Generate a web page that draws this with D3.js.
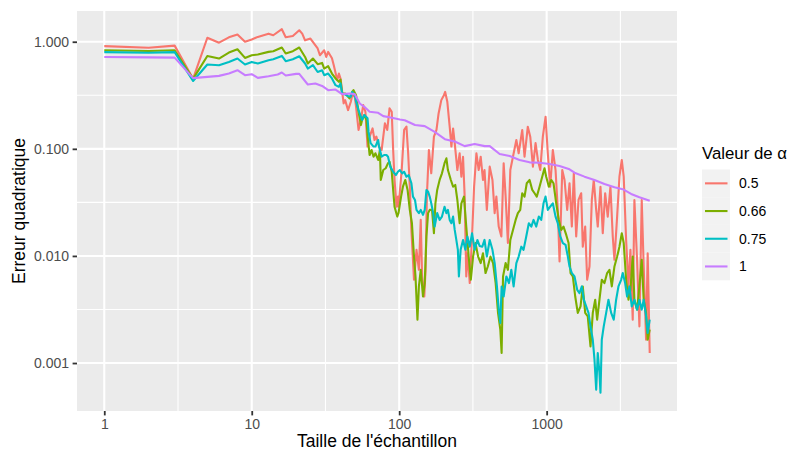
<!DOCTYPE html>
<html>
<head>
<meta charset="utf-8">
<script src="https://cdnjs.cloudflare.com/ajax/libs/d3/7.8.5/d3.min.js"></script>
<style>
  body { margin: 0; background: #fff; }
  text { font-family: "Liberation Sans", Arial, sans-serif; }
</style>
</head>
<body>
<script>
// legend levels and tick labels
var alphaLevels = ['0.5', '0.66', '0.75', '1'];
var xTicks = [1, 10, 100, 1000];
var xTickLabels = ['1', '10', '100', '1000'];
var yTicks = [1, 0.1, 0.01, 0.001];
var yTickLabels = ['1.000', '0.100', '0.010', '0.001'];

// [taille de l'échantillon, erreur quadratique]
var serieA05 = [[1,0.91],[2,0.88],[3,0.92],[4,0.45],[5,1.09],[6,0.98],[7,1.10],[8,1.17],[9,1.0],[10,1.05],[11,1.11],[13,1.19],[14,1.15],[16,1.31],[17,1.10],[19,1.13],[21,1.28],[22,1.19],[23,1.03],[25,1.07],[28,0.865],[29,0.748],[31,0.833],[32,0.721],[33,0.803],[35,0.70],[36,0.604],[38,0.438],[39,0.505],[40,0.454],[42,0.266],[43,0.285],[45,0.230],[47,0.275],[48,0.317],[50,0.306],[51,0.247],[53,0.150],[55,0.186],[57,0.256],[59,0.222],[61,0.105],[63,0.130],[66,0.155],[68,0.121],[70,0.130],[73,0.105],[76,0.0975],[78,0.130],[80,0.173],[83,0.150],[86,0.239],[89,0.222],[91,0.0975],[93,0.0512],[96,0.0288],[98,0.0358],[99,0.0288],[104,0.0634],[108,0.150],[112,0.161],[115,0.0909],[118,0.0443],[121,0.0175],[126,0.00599],[131,0.0114],[136,0.00742],[140,0.0217],[143,0.00643],[148,0.00418],[151,0.00742],[154,0.0358],[159,0.0975],[165,0.0591],[172,0.130],[179,0.150],[185,0.214],[193,0.285],[201,0.317],[205,0.340],[212,0.275],[220,0.161],[226,0.105],[232,0.155],[238,0.113],[248,0.0634],[257,0.0909],[264,0.0549],[271,0.0844],[278,0.0358],[285,0.00643],[291,0.0106],[301,0.00558],[312,0.0152],[322,0.0443],[334,0.0909],[346,0.0634],[357,0.0844],[370,0.0512],[379,0.0634],[393,0.0269],[411,0.0682],[429,0.0512],[444,0.0251],[456,0.0358],[473,0.0188],[493,0.0152],[511,0.0734],[527,0.0358],[546,0.0132],[567,0.0634],[591,0.0844],[623,0.121],[646,0.0909],[683,0.150],[708,0.0844],[745,0.161],[774,0.130],[807,0.0682],[841,0.113],[872,0.0787],[905,0.0634],[942,0.130],[983,0.199],[1018,0.0909],[1057,0.0443],[1101,0.0975],[1149,0.0634],[1190,0.0269],[1223,0.00887],[1276,0.0634],[1322,0.0512],[1378,0.0269],[1429,0.0477],[1482,0.0188],[1528,0.0591],[1586,0.0152],[1645,0.0333],[1715,0.0385],[1758,0.0122],[1825,0.0188],[1882,0.00599],[1952,0.00797],[2024,0.0333],[2087,0.0512],[2167,0.0269],[2221,0.0188],[2317,0.0443],[2402,0.0163],[2493,0.0385],[2596,0.0233],[2708,0.0443],[2807,0.0152],[2882,0.0092],[3005,0.0233],[3116,0.0549],[3231,0.0787],[3331,0.0549],[3459,0.0141],[3587,0.00519],[3699,0.0114],[3834,0.00254],[3936,0.0333],[4103,0.0092],[4256,0.0022],[4413,0.0333],[4550,0.00797],[4724,0.00165],[4843,0.0106],[5000,0.00124]];

var serieA066 = [[1,0.833],[2,0.82],[3,0.833],[4,0.45],[5,0.737],[6,0.697],[7,0.793],[8,0.851],[9,0.706],[10,0.748],[11,0.760],[13,0.804],[14,0.816],[16,0.883],[17,0.776],[19,0.816],[21,0.883],[23,0.721],[24,0.626],[26,0.697],[28,0.617],[30,0.634],[31,0.562],[33,0.591],[35,0.505],[37,0.454],[39,0.422],[40,0.444],[41,0.329],[43,0.329],[44,0.317],[46,0.296],[48,0.340],[49,0.353],[51,0.317],[53,0.222],[55,0.167],[56,0.186],[58,0.207],[60,0.186],[61,0.134],[63,0.0876],[65,0.0975],[67,0.0844],[69,0.0909],[72,0.0787],[74,0.0975],[75,0.0512],[78,0.0634],[81,0.0659],[84,0.0734],[86,0.0759],[89,0.0611],[91,0.0413],[93,0.0288],[97,0.0233],[99,0.0252],[103,0.0358],[106,0.0443],[110,0.0512],[114,0.0413],[118,0.0269],[122,0.0202],[126,0.00987],[129,0.00643],[133,0.00254],[136,0.00519],[140,0.00742],[145,0.00418],[149,0.00558],[153,0.0152],[157,0.0251],[161,0.0269],[167,0.0269],[172,0.0163],[176,0.031],[181,0.0413],[188,0.0512],[195,0.0591],[203,0.0734],[209,0.0816],[214,0.0634],[224,0.0512],[232,0.0443],[240,0.046],[248,0.0333],[257,0.0202],[264,0.031],[275,0.0358],[285,0.0188],[296,0.00987],[306,0.00599],[317,0.00987],[329,0.0132],[343,0.00987],[357,0.00858],[370,0.0106],[385,0.00692],[399,0.00797],[416,0.00987],[433,0.00858],[451,0.00558],[468,0.00294],[485,0.00205],[495,0.00124],[506,0.00643],[527,0.00858],[546,0.00742],[567,0.0141],[591,0.0175],[616,0.0217],[638,0.0251],[662,0.0269],[683,0.0385],[708,0.0358],[733,0.0477],[766,0.0512],[799,0.0413],[828,0.0385],[857,0.0358],[895,0.0443],[933,0.0549],[967,0.0659],[993,0.0549],[1035,0.0443],[1074,0.0512],[1113,0.0477],[1161,0.031],[1209,0.0217],[1256,0.0175],[1301,0.0188],[1358,0.0157],[1408,0.0132],[1452,0.00692],[1505,0.00643],[1562,0.00418],[1626,0.00294],[1697,0.00338],[1758,0.00519],[1825,0.00294],[1900,0.00273],[1983,0.00143],[2055,0.00294],[2134,0.0039],[2200,0.00254],[2281,0.0039],[2365,0.00599],[2466,0.00558],[2571,0.00692],[2666,0.00742],[2765,0.00519],[2882,0.00797],[3005,0.00987],[3116,0.0122],[3231,0.0163],[3331,0.0132],[3459,0.00599],[3587,0.0039],[3699,0.00483],[3834,0.00987],[3936,0.0039],[4103,0.00315],[4256,0.00519],[4413,0.0092],[4550,0.0039],[4724,0.00294],[4843,0.00165],[5000,0.00205]];

var serieA075 = [[1,0.80],[2,0.79],[3,0.80],[4,0.43],[5,0.613],[6,0.604],[7,0.648],[8,0.697],[9,0.613],[10,0.648],[11,0.626],[13,0.672],[14,0.687],[16,0.737],[17,0.658],[19,0.687],[21,0.732],[23,0.626],[24,0.562],[26,0.604],[28,0.522],[30,0.542],[31,0.487],[33,0.505],[35,0.454],[37,0.393],[39,0.379],[40,0.408],[41,0.329],[43,0.322],[45,0.31],[47,0.306],[48,0.340],[50,0.317],[51,0.275],[53,0.230],[55,0.199],[56,0.186],[58,0.207],[61,0.193],[62,0.144],[64,0.113],[67,0.105],[69,0.105],[72,0.121],[73,0.105],[76,0.0844],[79,0.0876],[82,0.0876],[84,0.0844],[87,0.0682],[91,0.0611],[95,0.0569],[98,0.0611],[101,0.0634],[105,0.0591],[108,0.0611],[112,0.0549],[116,0.0569],[121,0.0477],[124,0.0358],[128,0.0333],[131,0.0269],[136,0.0251],[140,0.0269],[145,0.0242],[149,0.0269],[153,0.0413],[157,0.0398],[161,0.0358],[165,0.031],[170,0.0251],[174,0.0188],[181,0.0251],[188,0.0217],[195,0.0233],[203,0.0288],[209,0.0251],[214,0.0269],[220,0.0217],[226,0.0202],[232,0.0233],[238,0.0175],[244,0.0141],[250,0.0114],[254,0.00643],[261,0.0114],[271,0.0141],[281,0.0114],[290,0.0152],[301,0.0122],[312,0.0163],[325,0.0114],[339,0.0141],[351,0.0124],[366,0.0122],[379,0.0141],[393,0.00987],[411,0.0141],[429,0.0114],[444,0.00858],[460,0.00519],[473,0.00315],[485,0.00237],[495,0.00519],[511,0.00418],[533,0.00643],[555,0.00558],[576,0.00742],[597,0.00519],[623,0.00858],[646,0.00987],[673,0.0122],[697,0.0114],[727,0.0152],[757,0.0202],[787,0.0188],[815,0.0217],[850,0.0188],[885,0.0233],[919,0.0217],[952,0.031],[983,0.0358],[1018,0.0269],[1057,0.0288],[1101,0.031],[1149,0.0233],[1190,0.0202],[1237,0.0152],[1288,0.0132],[1343,0.0127],[1392,0.00987],[1429,0.00797],[1482,0.00692],[1545,0.00643],[1611,0.00483],[1670,0.0045],[1732,0.00519],[1785,0.0039],[1854,0.00338],[1922,0.00294],[1983,0.0022],[2055,0.00165],[2110,0.00108],[2167,0.000565],[2221,0.00124],[2281,0.00081],[2317,0.000527],[2365,0.00165],[2438,0.0022],[2532,0.00294],[2625,0.0039],[2738,0.00294],[2850,0.00254],[2959,0.0039],[3069,0.00519],[3200,0.00599],[3281,0.00692],[3406,0.00558],[3512,0.00418],[3641,0.00519],[3776,0.00338],[3936,0.0039],[4103,0.00315],[4256,0.0039],[4413,0.00315],[4550,0.0039],[4724,0.00273],[4843,0.00191],[5000,0.00254]];

var serieA1 = [[1,0.72],[2,0.715],[3,0.71],[4,0.457],[5,0.47],[6,0.48],[7,0.506],[8,0.542],[9,0.487],[10,0.498],[11,0.46],[13,0.477],[15,0.495],[16,0.516],[17,0.484],[20,0.501],[21,0.501],[24,0.399],[27,0.408],[30,0.387],[33,0.353],[37,0.358],[41,0.324],[46,0.329],[50,0.324],[54,0.265],[58,0.247],[63,0.222],[72,0.217],[78,0.202],[86,0.197],[101,0.188],[109,0.185],[128,0.167],[149,0.163],[174,0.144],[204,0.123],[238,0.117],[278,0.106],[325,0.111],[380,0.106],[411,0.106],[480,0.0894],[561,0.0857],[655,0.0787],[766,0.0748],[895,0.0742],[1046,0.0722],[1223,0.0691],[1429,0.0644],[1545,0.0599],[1806,0.055],[2110,0.0512],[2466,0.047],[2884,0.0438],[3280,0.042],[3740,0.0379],[4256,0.0353],[5000,0.0328]];

var series = [serieA05, serieA066, serieA075, serieA1];
var colors = ['#F8766D', '#7CAE00', '#00BFC4', '#C77CFF'];

var w = 793,
    h = 451;
var panel = {left: 77, right: 677, top: 11, bottom: 411};

var svg = d3.select('body')
            .append('svg')
            .attr('width', w)
            .attr('height', h);

// log scales with ggplot's 5% expansion of the data range
function expandLog(ext) {
  var a = Math.log10(ext[0]), b = Math.log10(ext[1]), m = (b - a) * 0.05;
  return [Math.pow(10, a - m), Math.pow(10, b + m)];
}
var allPts = d3.merge(series);
var x = d3.scaleLog()
          .domain(expandLog(d3.extent(allPts, function(d) { return d[0]; })))
          .range([panel.left, panel.right]);
var y = d3.scaleLog()
          .domain(expandLog(d3.extent(allPts, function(d) { return d[1]; })))
          .range([panel.bottom, panel.top]);

// panel background
svg.append('rect')
   .attr('x', panel.left)
   .attr('y', panel.top)
   .attr('width', panel.right - panel.left)
   .attr('height', panel.bottom - panel.top)
   .style('fill', '#EBEBEB');

// minor grid at half decades
function inDomain(scale) {
  var d = scale.domain();
  return function(v) { return v >= d[0] && v <= d[1]; };
}
var xMinor = xTicks.concat([10000]).map(function(t) { return t / Math.sqrt(10); }).filter(inDomain(x));
var yMinor = yTicks.concat([10]).map(function(t) { return t / Math.sqrt(10); }).filter(inDomain(y));

var grid = svg.append('g').style('stroke', '#fff');
grid.selectAll('.vminor').data(xMinor).enter().append('line')
    .attr('x1', x).attr('x2', x).attr('y1', panel.top).attr('y2', panel.bottom)
    .style('stroke-width', 1.1);
grid.selectAll('.hminor').data(yMinor).enter().append('line')
    .attr('y1', y).attr('y2', y).attr('x1', panel.left).attr('x2', panel.right)
    .style('stroke-width', 1.1);
grid.selectAll('.vmajor').data(xTicks).enter().append('line')
    .attr('x1', x).attr('x2', x).attr('y1', panel.top).attr('y2', panel.bottom)
    .style('stroke-width', 2.1);
grid.selectAll('.hmajor').data(yTicks).enter().append('line')
    .attr('y1', y).attr('y2', y).attr('x1', panel.left).attr('x2', panel.right)
    .style('stroke-width', 2.1);

// lines
var line = d3.line()
             .x(function(d) { return x(d[0]); })
             .y(function(d) { return y(d[1]); });

svg.append('g')
   .selectAll('path')
   .data(series)
   .enter()
   .append('path')
   .attr('d', line)
   .style('fill', 'none')
   .style('stroke', function(d, i) { return colors[i]; })
   .style('stroke-width', 2.1)
   .style('stroke-linejoin', 'round');

// axes
var xAxis = d3.axisBottom(x)
              .tickValues(xTicks)
              .tickFormat(function(d, i) { return xTickLabels[i]; })
              .tickSize(4.4)
              .tickPadding(3.5);
var yAxis = d3.axisLeft(y)
              .tickValues(yTicks)
              .tickFormat(function(d, i) { return yTickLabels[i]; })
              .tickSize(4.4)
              .tickPadding(3.5);

function styleAxis(g) {
  g.select('.domain').remove();
  g.selectAll('.tick line').style('stroke', '#333333').style('stroke-width', 1.8);
  g.selectAll('.tick text')
   .style('fill', '#4D4D4D')
   .style('font-size', '14px')
   .style('font-family', '"Liberation Sans", Arial, sans-serif');
}

svg.append('g')
   .attr('transform', 'translate(0,' + panel.bottom + ')')
   .call(xAxis)
   .call(styleAxis);
svg.append('g')
   .attr('transform', 'translate(' + panel.left + ',0)')
   .call(yAxis)
   .call(styleAxis);

// axis titles
svg.append('text')
   .attr('x', (panel.left + panel.right) / 2)
   .attr('y', 447)
   .attr('text-anchor', 'middle')
   .style('font-size', '17.5px')
   .style('fill', '#000')
   .text("Taille de l'échantillon");

svg.append('text')
   .attr('transform', 'translate(25,' + (panel.top + panel.bottom) / 2 + ') rotate(-90)')
   .attr('text-anchor', 'middle')
   .style('font-size', '17.5px')
   .style('fill', '#000')
   .text('Erreur quadratique');

// legend
var legend = svg.append('g').attr('transform', 'translate(702,0)');
legend.append('text')
      .attr('x', 0)
      .attr('y', 159)
      .style('font-size', '16.8px')
      .style('fill', '#000')
      .text('Valeur de α');

var keys = legend.selectAll('.key')
                 .data(alphaLevels)
                 .enter()
                 .append('g')
                 .attr('transform', function(d, i) { return 'translate(0,' + (169.5 + i * 27.7) + ')'; });
keys.append('rect')
    .attr('width', 28)
    .attr('height', 27.7)
    .style('fill', '#F2F2F2');
keys.append('line')
    .attr('x1', 3).attr('x2', 25.5)
    .attr('y1', 13.85).attr('y2', 13.85)
    .style('stroke', function(d, i) { return colors[i]; })
    .style('stroke-width', 2.1);
keys.append('text')
    .attr('x', 37)
    .attr('y', 13.85)
    .attr('dy', '0.35em')
    .style('font-size', '14px')
    .style('fill', '#000')
    .text(function(d) { return d; });
</script>
</body>
</html>
